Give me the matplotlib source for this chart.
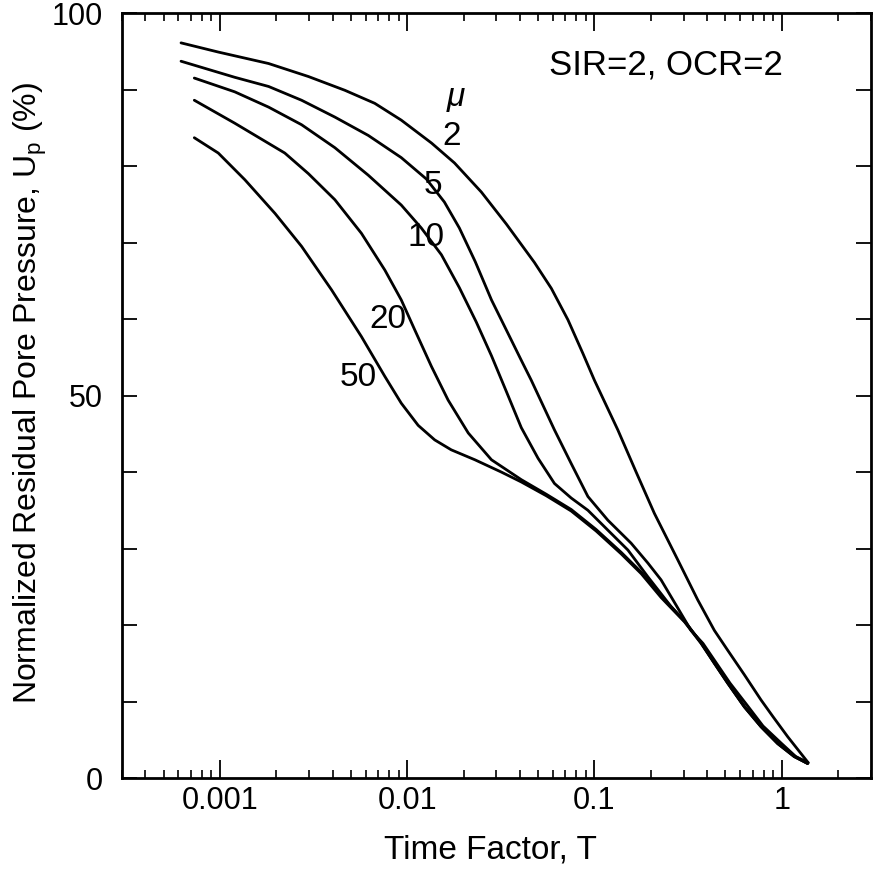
import matplotlib
matplotlib.use("Agg")
import matplotlib.pyplot as plt
from matplotlib.ticker import LogLocator, NullFormatter, MultipleLocator

plt.rcParams['font.family'] = ['Liberation Sans', 'DejaVu Sans']
plt.rcParams['mathtext.fontset'] = 'custom'
plt.rcParams['mathtext.rm'] = 'Liberation Sans'

# time factor T and normalized residual pore pressure Up (%) for each mu
T_MU2 = [0.00062, 0.00098, 0.00182, 0.00297, 0.00465, 0.00671, 0.0093, 0.0135,
         0.0179, 0.0249, 0.0339, 0.0478, 0.0589, 0.0722, 0.0868, 0.100, 0.1334,
         0.167, 0.209, 0.279, 0.356, 0.437, 0.515, 0.632, 0.776, 0.9, 1.077, 1.376]
U_MU2 = [96.1, 94.9, 93.4, 91.7, 89.9, 88.2, 86.0, 83.0,
         80.4, 76.6, 72.4, 67.4, 64.0, 59.9, 55.5, 52.0, 45.5,
         40.0, 34.6, 28.5, 23.3, 19.3, 16.7, 13.5, 10.2, 8.0, 5.4, 2.1]

T_MU5 = [0.00062, 0.0012, 0.00182, 0.00273, 0.00411, 0.0062, 0.0093, 0.01267,
         0.0158, 0.019, 0.0231, 0.0282, 0.0346, 0.0407, 0.046, 0.0612, 0.0752,
         0.0923, 0.118, 0.157, 0.193, 0.227, 0.273, 0.328, 0.38, 0.53, 0.65,
         0.795, 1.0, 1.19, 1.39]
U_MU5 = [93.7, 91.6, 90.4, 88.6, 86.4, 84.0, 81.1, 78.3,
         75.3, 71.9, 67.5, 62.5, 58.1, 54.6, 52.0, 45.5, 41.1,
         36.8, 33.7, 30.7, 28.1, 25.9, 22.6, 19.3, 17.6, 12.4, 9.6,
         6.8, 4.5, 2.8, 2.0]

T_MU10 = [0.00073, 0.0012, 0.00182, 0.00273, 0.00411, 0.0062, 0.0093, 0.0119,
          0.01524, 0.019, 0.0234, 0.0282, 0.0339, 0.0407, 0.050, 0.0612, 0.0752,
          0.0923, 0.118, 0.151, 0.193, 0.257, 0.303, 0.371, 0.437, 0.515, 0.632,
          0.776, 0.952, 1.167, 1.376]
U_MU10 = [91.5, 89.7, 87.7, 85.4, 82.4, 78.8, 74.9, 71.9,
          68.4, 64.1, 59.6, 55.2, 50.5, 45.8, 41.8, 38.5, 36.6,
          35.0, 32.4, 29.8, 26.3, 22.4, 20.5, 17.7, 15.1, 12.5, 9.4,
          6.8, 4.6, 2.9, 1.9]

T_MU20 = [0.00073, 0.0012, 0.00222, 0.00297, 0.00411, 0.0057, 0.0076, 0.0093,
          0.01097, 0.01348, 0.01655, 0.0212, 0.0282, 0.0407, 0.0553, 0.0752, 0.102,
          0.139, 0.178, 0.227, 0.303, 0.371, 0.437, 0.515, 0.632, 0.776, 0.952,
          1.167, 1.376]
U_MU20 = [88.6, 85.6, 81.7, 79.0, 75.6, 71.2, 66.4, 62.5,
          58.6, 53.8, 49.4, 45.1, 41.6, 39.0, 37.1, 35.1, 32.5,
          29.5, 26.9, 23.8, 20.5, 17.7, 15.0, 12.4, 9.3, 6.7, 4.5,
          2.8, 1.9]

T_MU50 = [0.00073, 0.00098, 0.00136, 0.00197, 0.00273, 0.00395, 0.0057, 0.0076,
          0.0093, 0.01145, 0.01403, 0.0172, 0.023, 0.0318, 0.0407, 0.0553, 0.0752,
          0.102, 0.139, 0.178, 0.227, 0.303, 0.371, 0.437, 0.515, 0.632, 0.776,
          0.952, 1.167, 1.376]
U_MU50 = [83.7, 81.7, 78.2, 73.8, 69.5, 63.8, 57.7, 52.5,
          49.0, 46.1, 44.2, 42.9, 41.6, 40.0, 38.7, 36.9, 34.9,
          32.3, 29.3, 26.7, 23.6, 20.4, 17.6, 15.0, 12.4, 9.3, 6.7,
          4.5, 2.8, 1.9]

CURVES = [(T_MU2, U_MU2), (T_MU5, U_MU5), (T_MU10, U_MU10),
          (T_MU20, U_MU20), (T_MU50, U_MU50)]

# curve labels: text, T, Up
CURVE_LABELS = ['2', '5', '10', '20', '50']
LABEL_T = [0.0172, 0.0138, 0.01267, 0.00785, 0.00551]
LABEL_U = [83.9, 77.4, 70.7, 59.9, 52.4]

X_TICKS = [0.001, 0.01, 0.1, 1]
X_TICK_LABELS = ['0.001', '0.01', '0.1', '1']
Y_TICKS = [0, 50, 100]

fig = plt.figure(figsize=(8.84, 8.69), dpi=100)
ax = fig.add_axes([0.138, 0.1047, 0.8473, 0.8803])

for t, u in CURVES:
    ax.plot(t, u, color='black', lw=2.0, solid_joinstyle='round',
            solid_capstyle='round')

for lab, t, u in zip(CURVE_LABELS, LABEL_T, LABEL_U):
    ax.text(t, u, lab, fontsize=24, ha='center', va='center')
ax.text(0.0183, 88.9, 'μ', fontsize=24, style='italic', ha='center', va='center')
ax.text(0.2415, 93.2, 'SIR=2, OCR=2', fontsize=25, ha='center', va='center')

ax.set_xscale('log')
ax.set_xlim(0.0003, 3)
ax.set_ylim(0, 100)

ax.set_xticks(X_TICKS, labels=X_TICK_LABELS)
ax.xaxis.set_minor_locator(LogLocator(base=10, subs=range(2, 10)))
ax.xaxis.set_minor_formatter(NullFormatter())
ax.set_yticks(Y_TICKS)
ax.yaxis.set_minor_locator(MultipleLocator(10))

ax.tick_params(axis='x', which='major', direction='in', length=13, width=1.3,
               top=True, labelsize=22, pad=6)
ax.tick_params(axis='x', which='minor', direction='in', length=6, width=1.2, top=True)
ax.tick_params(axis='y', which='both', direction='in', length=11, width=1.3,
               right=True, labelsize=22, pad=14)
for s in ax.spines.values():
    s.set_linewidth(2)

fig.text(490 / 884, 1 - 850 / 869, 'Time Factor, T', fontsize=24,
         ha='center', va='center')
fig.text(30 / 884, 1 - 393 / 869, 'Normalized Residual Pore Pressure, U$_\\mathregular{p}$ (%)',
         fontsize=23, rotation=90, ha='center', va='center')

fig.savefig('out.png', dpi=100)
